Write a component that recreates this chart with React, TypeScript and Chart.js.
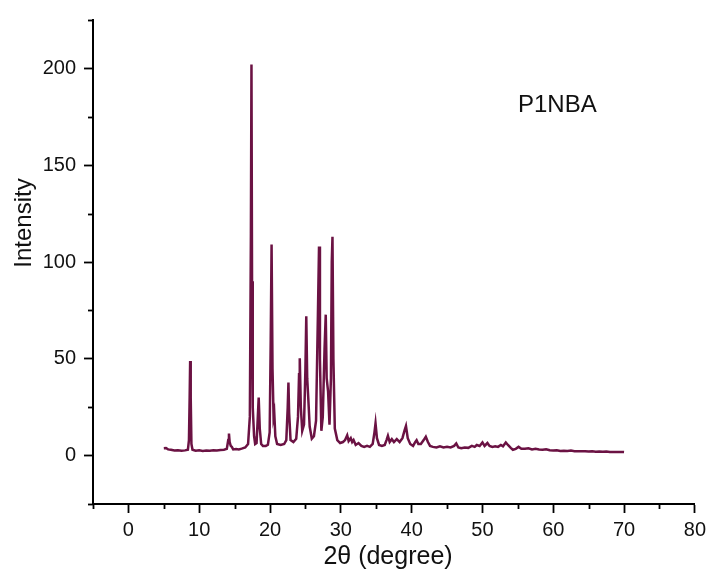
import React, { useEffect, useRef } from "react";
import { Chart, registerables } from "chart.js";

Chart.register(...registerables);

// 2θ positions (degree)
const twoTheta: number[] = [
  5.0, 5.3, 5.6, 6.0, 6.5, 7.0, 7.5, 8.0, 8.4, 8.55, 8.65, 8.72, 8.8, 8.9, 9.05,
  9.5, 10.0, 10.5, 11.0, 11.5, 12.0, 12.5, 13.0, 13.5, 13.9, 14.1, 14.2, 14.3, 14.45, 14.6,
  14.8, 15.2, 15.6, 16.0, 16.5, 16.9, 17.15, 17.3, 17.38, 17.46, 17.56, 17.75, 17.9, 18.1, 18.25,
  18.4, 18.55, 18.75, 19.0, 19.4, 19.7, 19.95, 20.1, 20.22, 20.35, 20.5, 20.6, 20.75, 21.0, 21.5,
  22.0, 22.3, 22.5, 22.6, 22.7, 22.9, 23.3, 23.7, 23.95, 24.1, 24.2, 24.35, 24.55, 24.8, 25.0,
  25.12, 25.25, 25.4, 25.6, 25.9, 26.2, 26.5, 26.75, 26.92, 27.05, 27.25, 27.45, 27.7, 27.87, 28.0,
  28.2, 28.4, 28.6, 28.72, 28.82, 28.95, 29.15, 29.5, 29.9, 30.3, 30.6, 30.9, 31.1, 31.4, 31.6,
  31.8, 32.1, 32.5, 32.9, 33.3, 33.7, 34.1, 34.5, 34.75, 34.9, 35.1, 35.4, 35.8, 36.2, 36.45,
  36.65, 36.9, 37.2, 37.5, 37.9, 38.3, 38.7, 39.0, 39.2, 39.45, 39.8, 40.2, 40.5, 40.7, 40.95,
  41.3, 41.7, 42.0, 42.3, 42.6, 43.0, 43.5, 44.0, 44.5, 45.0, 45.5, 46.0, 46.3, 46.6, 47.0,
  47.5, 48.0, 48.5, 48.9, 49.2, 49.6, 50.0, 50.3, 50.7, 51.0, 51.4, 51.8, 52.2, 52.6, 52.9,
  53.3, 53.6, 54.0, 54.3, 54.7, 55.1, 55.5, 56.0, 56.5, 57.0, 57.5, 58.0, 58.5, 59.0, 59.5,
  60.0, 60.5, 61.0, 61.5, 62.0, 62.5, 63.0, 63.5, 64.0, 64.5, 65.0, 65.5, 66.0, 66.5, 67.0,
  67.5, 68.0, 68.5, 69.0, 69.5, 70.0,
];

// Intensity values
const intensity: number[] = [
  3.8, 3.9, 3.2, 3.0, 2.6, 2.8, 2.5, 2.7, 3.0, 8, 30, 48.8, 30, 6, 3,
  2.5, 2.7, 2.4, 2.6, 2.5, 2.8, 2.6, 2.9, 3.0, 3.5, 8, 11.4, 7, 5, 4.5,
  3.2, 3.4, 3.2, 3.6, 4.2, 6, 20, 115, 202, 90, 25, 10, 6, 6.5, 18,
  30, 14, 6, 5, 5, 5.6, 12, 60, 109, 45, 20, 22, 10, 6, 5.5,
  6, 8, 25, 37.8, 22, 8, 7, 8.7, 20, 42, 50.3, 25, 12.8, 16, 45,
  72, 40, 29.8, 15, 8.7, 10, 18, 70, 108, 50, 12.8, 20, 55, 72.8, 40,
  33, 16, 40, 100, 113, 50, 14, 8, 6.5, 7, 8, 10.5, 7.5, 9, 7,
  8, 5.5, 6.5, 5, 4.5, 5, 4.5, 6, 12, 16.7, 9, 5.5, 5, 5.5, 8,
  10.2, 7, 8.5, 7, 8.5, 7, 9, 13, 15.3, 9, 6, 5, 7, 8, 6,
  6, 8, 9.7, 7, 5, 4.5, 4.2, 4.8, 4.2, 4.5, 4.2, 5, 6.3, 4.2, 3.8,
  4.2, 4, 5, 4.5, 5.5, 5, 6.8, 5, 6.5, 5, 4.5, 4.8, 4.5, 5.5, 4.8,
  6.8, 5.5, 4, 3, 3.5, 4.5, 3.5, 3.5, 3.8, 3.2, 3.5, 3.2, 3.0, 3.3, 2.8,
  2.6, 2.8, 2.4, 2.5, 2.4, 2.6, 2.3, 2.3, 2.2, 2.3, 2.1, 2.2, 2.0, 2.1, 2.0,
  2.1, 1.9, 1.9, 1.8, 1.9, 1.8,
];

const xMajorTicks: number[] = [0, 10, 20, 30, 40, 50, 60, 70, 80];
const xMinorTicks: number[] = [-5, 5, 15, 25, 35, 45, 55, 65, 75];
const yMajorTicks: number[] = [0, 50, 100, 150, 200];
const yMinorTicks: number[] = [-25, 25, 75, 125, 175, 225];

const sampleName = "P1NBA";
const xTitle = "2θ (degree)";
const yTitle = "Intensity";

const FONT = '"Liberation Sans", Arial, Helvetica, sans-serif';

export default function App() {
  const ref = useRef<HTMLCanvasElement>(null);

  useEffect(() => {
    const canvas = ref.current;
    if (!canvas) return;

    const decorPlugin = {
      id: "decor",
      afterDraw(chart: any) {
        const ctx = chart.ctx as CanvasRenderingContext2D;
        const xs = chart.scales.x;
        const ys = chart.scales.y;
        const area = chart.chartArea;
        ctx.save();
        ctx.strokeStyle = "#000";
        ctx.lineWidth = 1.8;
        xMinorTicks.forEach((v) => {
          const px = Math.round(xs.getPixelForValue(v)) + 0.5;
          ctx.beginPath();
          ctx.moveTo(px, area.bottom);
          ctx.lineTo(px, area.bottom + 5);
          ctx.stroke();
        });
        yMinorTicks.forEach((v) => {
          const py = Math.round(ys.getPixelForValue(v)) + 0.5;
          ctx.beginPath();
          ctx.moveTo(area.left, py);
          ctx.lineTo(area.left - 5, py);
          ctx.stroke();
        });
        ctx.fillStyle = "#111";
        ctx.font = `25px ${FONT}`;
        ctx.textAlign = "center";
        ctx.textBaseline = "alphabetic";
        ctx.fillText(xTitle, 388, 564);
        ctx.save();
        ctx.translate(24, 223);
        ctx.rotate(-Math.PI / 2);
        ctx.textBaseline = "middle";
        ctx.font = `24px ${FONT}`;
        ctx.fillText(yTitle, 0, 0);
        ctx.restore();
        ctx.textAlign = "left";
        ctx.font = `24px ${FONT}`;
        ctx.fillText(sampleName, 518, 112);
        ctx.restore();
      },
    };

    const chart = new Chart(canvas, {
      type: "line",
      data: {
        datasets: [
          {
            data: twoTheta.map((x, i) => ({ x, y: intensity[i] })),
            borderColor: "#6b1243",
            borderWidth: 2.5,
            pointRadius: 0,
            tension: 0,
            fill: false,
          },
        ],
      },
      options: {
        animation: false,
        responsive: true,
        maintainAspectRatio: false,
        layout: { padding: { top: 15, right: 13, left: 0, bottom: 0 } },
        plugins: {
          legend: { display: false },
          tooltip: { enabled: false },
        },
        scales: {
          x: {
            type: "linear",
            min: -5,
            max: 80,
            afterBuildTicks: (s: any) => {
              s.ticks = xMajorTicks.map((v) => ({ value: v }));
            },
            afterFit: (s: any) => {
              s.height = 67;
            },
            ticks: {
              autoSkip: false,
              maxRotation: 0,
              minRotation: 0,
              padding: 5,
              color: "#111",
              font: { family: FONT, size: 20 },
              callback: (v: any) => String(v),
            },
            grid: {
              display: true,
              drawOnChartArea: false,
              drawTicks: true,
              tickLength: 9,
              tickWidth: 1.8,
              tickColor: "#000",
            },
            border: { display: true, color: "#000", width: 2 },
          },
          y: {
            type: "linear",
            min: -25,
            max: 225,
            afterBuildTicks: (s: any) => {
              s.ticks = yMajorTicks.map((v) => ({ value: v }));
            },
            afterFit: (s: any) => {
              s.width = 93;
            },
            ticks: {
              autoSkip: false,
              padding: 8,
              color: "#111",
              font: { family: FONT, size: 20 },
              callback: (v: any) => String(v),
            },
            grid: {
              display: true,
              drawOnChartArea: false,
              drawTicks: true,
              tickLength: 9,
              tickWidth: 1.8,
              tickColor: "#000",
            },
            border: { display: true, color: "#000", width: 2 },
          },
        },
      },
      plugins: [decorPlugin],
    });

    return () => chart.destroy();
  }, []);

  return (
    <div
      style={{
        position: "fixed",
        left: 0,
        top: 0,
        width: 711,
        height: 571,
        background: "#fff",
      }}
    >
      <canvas ref={ref} />
    </div>
  );
}
